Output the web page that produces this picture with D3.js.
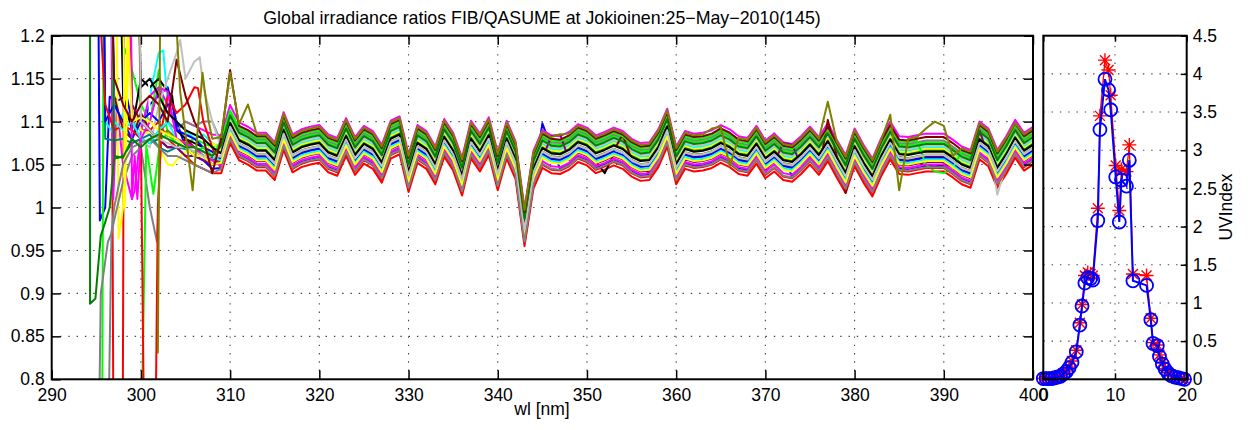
<!DOCTYPE html>
<meta charset="utf-8">
<script src="https://d3js.org/d3.v7.min.js"></script>
<style>
  body { margin: 0; background: #fff; }
  text { font-family: "Liberation Sans", Arial, sans-serif; }
</style>
<div id="chart"></div>
<script>

// ---- data ----

// axis ticks
var xTicks = [290, 300, 310, 320, 330, 340, 350, 360, 370, 380, 390, 400];
var xTickLabels = ["290", "300", "310", "320", "330", "340", "350", "360", "370", "380", "390", "400"];
var yTicks = [0.8, 0.85, 0.9, 0.95, 1, 1.05, 1.1, 1.15, 1.2];
var yTickLabels = ["0.8", "0.85", "0.9", "0.95", "1", "1.05", "1.1", "1.15", "1.2"];
var uvXTicks = [0, 10, 20];
var uvYTicks = [0, 0.5, 1, 1.5, 2, 2.5, 3, 3.5, 4, 4.5];
var uvYTickLabels = ["0", "0.5", "1", "1.5", "2", "2.5", "3", "3.5", "4", "4.5"];

// spectral shape shared by the ratio curves, 309..400 nm every 1 nm
var profileStart = 309;
var profile = [
  1.063, 1.098, 1.078, 1.073, 1.066, 1.066, 1.055, 1.090, 1.064, 1.070,
  1.073, 1.075, 1.064, 1.060, 1.083, 1.061, 1.074, 1.068, 1.052, 1.080,
  1.085, 1.041, 1.075, 1.068, 1.050, 1.082, 1.066, 1.037, 1.080, 1.065,
  1.084, 1.043, 1.080, 1.056, 0.978, 1.045, 1.069, 1.063, 1.062, 1.067,
  1.076, 1.072, 1.063, 1.067, 1.072, 1.068, 1.059, 1.054, 1.055, 1.070,
  1.094, 1.050, 1.068, 1.065, 1.066, 1.069, 1.075, 1.070, 1.062, 1.060,
  1.074, 1.057, 1.065, 1.055, 1.053, 1.062, 1.073, 1.061, 1.077, 1.058,
  1.040, 1.071, 1.052, 1.036, 1.060, 1.079, 1.062, 1.061, 1.063, 1.065,
  1.065, 1.065, 1.058, 1.050, 1.046, 1.079, 1.071, 1.046, 1.062, 1.081,
  1.066, 1.073
];

// one entry per ratio curve (drawing order)
var seriesColors = [
  "#0000ff", "#00ff00", "#ff0000", "#00ffff", "#ff00ff", "#ffff00", "#000000",
  "#808080", "#c0c0c0", "#008000", "#800000", "#808000", "#800080", "#008080",
  "#ffffff", "#0000ff", "#00ff00", "#ff0000", "#00ffff", "#ff00ff", "#ffff00",
  "#000000", "#808080", "#c0c0c0", "#008000", "#800000", "#808000"
];
// level of each curve relative to the shared shape
var seriesLevels = [
  -0.017, 0.011, -0.023, 0.005, 0.021, 0.003, -0.010,
  0.013, 0.007, 0.001, -0.006, -0.003, -0.012, -0.004,
  -0.001, -0.007, 0.015, -0.019, -0.009, -0.015, -0.011,
  0.000, -0.018, -0.004, 0.009, 0.017, 0.019
];
// noisy short-wavelength part of each curve, [wl, ratio] up to 308 nm
var seriesEarly = [
  [[295,1.6],[295.4,0.985],[296,1.0],[296.5,1.129],[297.5,1.125],[298.4,1.13],[299,1.1],[300,1.09],[301,1.12],[302,1.13],[303,1.14],[304,1.1],[305,1.07],[306,1.06],[307,1.055],[308,1.045]],
  [[295.6,0.5],[295.9,1.6],[297,1.25],[298,1.19],[299,1.16],[300,1.12],[301,1.1],[302,1.16],[303,1.085],[304,1.08],[305,1.075],[306,1.08],[307,1.075],[308,1.07]],
  [[296.6,1.6],[297,0.5],[297.9,0.5],[298.2,1.6],[299,1.12],[300,1.09],[301,1.09],[302,1.1],[303,1.08],[304,1.07],[305,1.06],[306,1.05],[307,1.045],[308,1.04]],
  [[295.3,1.6],[296,1.1],[297,1.085],[298,1.11],[299,1.1],[300,1.09],[301,1.13],[302,1.18],[302.5,1.183],[303,1.12],[304,1.1],[305,1.09],[306,1.08],[307,1.085],[308,1.075]],
  [[296.3,1.6],[296.9,1.01],[297.3,1.12],[298,1.05],[299,1.01],[299.3,1.02],[300,1.09],[301,1.13],[302,1.14],[303,1.12],[304,1.09],[305,1.1],[306,1.095],[307,1.09],[308,1.085]],
  [[297,1.6],[297.5,0.964],[298,1.0],[298.5,1.2],[299,1.12],[300,1.09],[301,1.085],[302,1.07],[303,1.05],[303.6,1.049],[304,1.055],[305,1.065],[306,1.065],[307,1.06],[308,1.075]],
  [[297,1.6],[298,1.13],[299,1.09],[300,1.15],[300.5,1.145],[301,1.14],[302,1.15],[303,1.135],[303.5,1.13],[304,1.09],[305,1.08],[306,1.075],[307,1.07],[308,1.06]],
  [[295,0.5],[295.5,0.9],[296.3,0.96],[296.7,0.97],[297,0.985],[298,1.03],[299,1.06],[300,1.07],[301,1.0],[301.8,0.96],[302.3,1.09],[303,1.1],[304,1.09],[305,1.1],[306,1.095],[307,1.1],[308,1.1]],
  [[298.5,1.6],[299,1.1],[300,1.08],[301,1.07],[302,1.12],[303,1.15],[304,1.18],[304.4,1.195],[305,1.15],[306,1.17],[306.6,1.175],[307,1.14],[308,1.1]],
  [[294.3,1.6],[294.3,0.888],[294.9,0.894],[295.5,0.967],[296,0.983],[296.5,1.0],[297,1.057],[297.5,1.058],[298,1.06],[299,1.075],[300,1.08],[301,1.075],[302,1.08],[303,1.085],[304,1.08],[305,1.075],[306,1.07],[307,1.065],[308,1.058]],
  [[296,1.6],[297,1.13],[298,1.09],[299,1.08],[300,1.11],[301,1.09],[302,1.08],[303,1.07],[304,1.07],[305,1.08],[306,1.07],[307,1.06],[308,1.05]],
  [[299.2,1.6],[300,1.1],[301,1.09],[302,1.08],[303,1.09],[304,1.08],[305,1.075],[306,1.07],[307,1.065],[308,1.06]],
  [[298,1.6],[299,1.12],[300,1.1],[301,1.09],[302,1.08],[303,1.07],[304,1.07],[305,1.06],[306,1.06],[307,1.055],[308,1.05]],
  [[295.5,1.6],[296,1.08],[297,1.078],[298,1.08],[299,1.075],[300,1.08],[301,1.085],[302,1.07],[303,1.065],[304,1.07],[305,1.068],[306,1.065],[307,1.06],[308,1.055]],
  [[300,1.6],[301,1.1],[302,1.09],[303,1.08],[304,1.075],[305,1.07],[306,1.07],[307,1.065],[308,1.06]],
  [[295.6,1.6],[296,1.1],[297,1.12],[298,1.1],[299,1.08],[300,1.1],[301,1.11],[302,1.1],[303,1.12],[303.6,1.12],[304,1.09],[305,1.085],[306,1.08],[307,1.07],[308,1.065]],
  [[299.7,0.5],[300.6,1.072],[301.4,1.016],[302.2,1.08],[303,1.085],[304,1.075],[305,1.07],[306,1.065],[307,1.07],[308,1.06]],
  [[294,1.6],[295,1.3],[296,1.12],[297,1.09],[298,1.095],[299,1.09],[300,1.08],[300.6,0.5],[301.4,0.5],[301.9,1.0],[302.3,1.09],[303,1.13],[304,1.11],[305,1.12],[306,1.14],[306.4,1.139],[307,1.1],[308,1.07]],
  [[296,1.6],[297,1.1],[298,1.09],[299,1.1],[300,1.08],[301,1.075],[302,1.09],[303,1.1],[304,1.08],[305,1.07],[306,1.07],[307,1.065],[308,1.06]],
  [[298.7,1.6],[299,1.01],[299.3,1.06],[299.6,1.01],[300,1.08],[301,1.1],[302,1.14],[303,1.135],[304,1.08],[305,1.075],[306,1.07],[307,1.06],[308,1.055]],
  [[297.8,1.6],[298.2,1.0],[298.6,1.2],[299,1.1],[300,1.105],[301,1.1],[302,1.09],[303,1.085],[304,1.08],[305,1.07],[306,1.06],[307,1.06],[308,1.05]],
  [[299,1.6],[300,1.14],[301,1.15],[302,1.13],[303,1.11],[304,1.1],[305,1.09],[306,1.085],[307,1.08],[308,1.07]],
  [[296,0.5],[296.7,0.97],[297,1.0],[298,1.05],[299,1.07],[300,1.075],[301,1.08],[302,1.07],[303,1.06],[304,1.06],[305,1.055],[306,1.05],[307,1.045],[308,1.04]],
  [[299.5,1.6],[300,1.1],[301,1.09],[302,1.08],[303,1.075],[304,1.07],[305,1.07],[306,1.065],[307,1.06],[308,1.06]],
  [[296.5,1.6],[297,1.06],[298,1.058],[299,1.08],[300,1.07],[301,1.08],[302,1.085],[303,1.08],[304,1.075],[305,1.07],[306,1.07],[307,1.065],[308,1.06]],
  [[296,1.6],[297,1.15],[298,1.12],[299,1.1],[300,1.12],[301,1.13],[302,1.12],[303,1.1],[304,1.172],[305,1.13],[306,1.1],[307,1.08],[308,1.04]],
  [[301.9,0.83],[302.4,1.6],[303.5,1.3],[304.4,1.135],[305.8,1.02],[306.9,1.157],[307.6,1.1],[308,1.08]]
];
// places where a curve leaves the bundle, [wl, ratio]
var seriesDev = [
  [[345,1.098],[346,1.07],[371,1.086],[372,1.06]],
  [],
  [],
  [],
  [],
  [],
  [[352,1.04],[359,1.109],[388,1.048],[389,1.047],[390,1.05]],
  [],
  [[396,1.015],[397,1.05]],
  [],
  [[354,1.085],[355,1.056],[357,1.04],[376,1.042],[377,1.102],[378,1.06],[379,1.017]],
  [],
  [[346,1.083],[347,1.085],[372,1.075],[373,1.073],[394,1.09]],
  [],
  [],
  [],
  [[388,1.05],[389,1.042],[390,1.04],[391,1.046]],
  [],
  [],
  [],
  [],
  [],
  [],
  [],
  [],
  [[310,1.16]],
  [[310,1.157],[312,1.12],[347,1.085],[364,1.092],[366,1.048],[377,1.123],[384,1.108],[385,1.02],[388,1.092],[389,1.1],[390,1.095],[391,1.06],[398,1.098]]
];

// UV index panel: time [h], red stars and blue circles
var uvTime = [0.0, 0.4, 0.8, 1.2, 1.6, 2.0, 2.4, 2.8, 3.2, 3.6, 4.0, 4.6, 5.1, 5.4, 5.8, 6.2, 6.6, 6.9, 7.6, 7.9,
  8.6, 9.1, 9.4, 10.1, 10.6, 10.9, 11.6, 12.0, 12.5, 14.4, 15.0, 15.3, 15.9, 16.2, 16.6, 17.0, 17.4, 17.8, 18.3, 18.8, 19.3, 19.7];
var uvRed = [0.01, 0.01, 0.01, 0.01, 0.02, 0.03, 0.05, 0.08, 0.11, 0.16, 0.24, 0.38, 0.74, 0.98, 1.36, 1.4, 1.38, 1.36, 2.24, 3.45,
  4.18, 4.05, 3.72, 2.8, 2.21, 2.75, 2.72, 3.07, 1.38, 1.36, 0.8, 0.48, 0.45, 0.32, 0.22, 0.14, 0.09, 0.06, 0.04, 0.02, 0.01, 0.0];
var uvBlue = [0.01, 0.01, 0.01, 0.01, 0.02, 0.03, 0.04, 0.07, 0.1, 0.15, 0.22, 0.36, 0.71, 0.96, 1.26, 1.33, 1.32, 1.3, 2.08, 3.27,
  3.93, 3.79, 3.53, 2.65, 2.06, 2.61, 2.53, 2.87, 1.29, 1.23, 0.78, 0.47, 0.44, 0.3, 0.2, 0.13, 0.08, 0.05, 0.03, 0.02, 0.01, 0.0];

// ---- drawing ----

var svg = d3.select("#chart").append("svg")
    .attr("width", 1257)
    .attr("height", 430);

var x = d3.scaleLinear().domain([290, 400]).range([51.7, 1033]);
var y = d3.scaleLinear().domain([0.8, 1.2]).range([379.3, 35.7]);
var xr = d3.scaleLinear().domain([0, 20]).range([1043.3, 1186.7]);
var yr = d3.scaleLinear().domain([0, 4.5]).range([379.3, 35.7]);

// dotted grid
function dotted(g) {
  g.attr("stroke", "#444").attr("stroke-width", 1.1).attr("stroke-dasharray", "1.4,6.9");
}
var grid = svg.append("g").call(dotted);
grid.selectAll(".gx").data(xTicks.slice(1, -1)).enter().append("line")
    .attr("x1", function(d) { return x(d); }).attr("x2", function(d) { return x(d); })
    .attr("y1", y(0.8)).attr("y2", y(1.2));
grid.selectAll(".gy").data(yTicks.slice(1, -1)).enter().append("line")
    .attr("x1", x(290)).attr("x2", x(400))
    .attr("y1", function(d) { return y(d); }).attr("y2", function(d) { return y(d); });
grid.selectAll(".gxr").data([10]).enter().append("line")
    .attr("x1", function(d) { return xr(d); }).attr("x2", function(d) { return xr(d); })
    .attr("y1", yr(0)).attr("y2", yr(4.5));
grid.selectAll(".gyr").data(uvYTicks.slice(1, -1)).enter().append("line")
    .attr("x1", xr(0)).attr("x2", xr(20))
    .attr("y1", function(d) { return yr(d); }).attr("y2", function(d) { return yr(d); });

// ratio curves
svg.append("clipPath").attr("id", "clipMain")
  .append("rect")
    .attr("x", x(290)).attr("y", y(1.2))
    .attr("width", x(400) - x(290)).attr("height", y(0.8) - y(1.2));

var curves = seriesColors.map(function(c, i) {
  var dev = new Map(seriesDev[i]);
  var pts = seriesEarly[i].slice();
  profile.forEach(function(v, k) {
    var w = profileStart + k;
    pts.push([w, dev.has(w) ? dev.get(w) : v + seriesLevels[i]]);
  });
  return pts;
});

var line = d3.line()
    .x(function(d) { return x(d[0]); })
    .y(function(d) { return y(d[1]); });

svg.append("g")
    .attr("clip-path", "url(#clipMain)")
  .selectAll("path")
  .data(curves)
  .enter()
  .append("path")
    .attr("d", line)
    .attr("fill", "none")
    .attr("stroke", function(d, i) { return seriesColors[i]; })
    .attr("stroke-width", 2)
    .attr("stroke-linejoin", "round");

// UV index panel
var uvRedPts = uvTime.map(function(t, i) { return [t, uvRed[i]]; });
var uvBluePts = uvTime.map(function(t, i) { return [t, uvBlue[i]]; });
var uvLine = d3.line()
    .x(function(d) { return xr(d[0]); })
    .y(function(d) { return yr(d[1]); });

svg.append("path")
    .attr("d", uvLine(uvRedPts))
    .attr("fill", "none")
    .attr("stroke", "#ff0000")
    .attr("stroke-width", 1.3);

var star = "M-7,0L7,0M0,-7L0,7M-5,-5L5,5M-5,5L5,-5";
svg.append("g").selectAll("path")
  .data(uvRedPts)
  .enter()
  .append("path")
    .attr("transform", function(d) { return "translate(" + xr(d[0]) + "," + yr(d[1]) + ")"; })
    .attr("d", star)
    .attr("stroke", "#ff0000")
    .attr("stroke-width", 1.4);

svg.append("path")
    .attr("d", uvLine(uvBluePts))
    .attr("fill", "none")
    .attr("stroke", "#0000ff")
    .attr("stroke-width", 2);

svg.append("g").selectAll("circle")
  .data(uvBluePts)
  .enter()
  .append("circle")
    .attr("cx", function(d) { return xr(d[0]); })
    .attr("cy", function(d) { return yr(d[1]); })
    .attr("r", 6.5)
    .attr("fill", "none")
    .attr("stroke", "#0000ff")
    .attr("stroke-width", 1.8);

// axes
function styleAxis(g) {
  g.select(".domain").remove();
  g.selectAll(".tick line").attr("stroke", "#000").attr("stroke-width", 1.5);
  g.selectAll("text").attr("fill", "#000").style("font-size", "17.5px")
    .style("font-family", "'Liberation Sans', Arial, sans-serif");
}

svg.append("g")
    .attr("transform", "translate(0," + y(0.8) + ")")
    .call(d3.axisBottom(x).tickValues(xTicks)
      .tickFormat(function(d, i) { return xTickLabels[i]; })
      .tickSizeInner(-9).tickSizeOuter(0).tickPadding(9))
    .call(styleAxis);
svg.append("g")
    .attr("transform", "translate(0," + y(1.2) + ")")
    .call(d3.axisTop(x).tickValues(xTicks).tickFormat("").tickSizeInner(-9).tickSizeOuter(0))
    .call(styleAxis);
svg.append("g")
    .attr("transform", "translate(" + x(290) + ",0)")
    .call(d3.axisLeft(y).tickValues(yTicks)
      .tickFormat(function(d, i) { return yTickLabels[i]; })
      .tickSizeInner(-9).tickSizeOuter(0).tickPadding(7))
    .call(styleAxis);
svg.append("g")
    .attr("transform", "translate(" + x(400) + ",0)")
    .call(d3.axisRight(y).tickValues(yTicks).tickFormat("").tickSizeInner(-9).tickSizeOuter(0))
    .call(styleAxis);

svg.append("g")
    .attr("transform", "translate(0," + yr(0) + ")")
    .call(d3.axisBottom(xr).tickValues(uvXTicks).tickFormat(d3.format("d"))
      .tickSizeInner(-6).tickSizeOuter(0).tickPadding(9))
    .call(styleAxis);
svg.append("g")
    .attr("transform", "translate(0," + yr(4.5) + ")")
    .call(d3.axisTop(xr).tickValues(uvXTicks).tickFormat("").tickSizeInner(-6).tickSizeOuter(0))
    .call(styleAxis);
svg.append("g")
    .attr("transform", "translate(" + xr(20) + ",0)")
    .call(d3.axisRight(yr).tickValues(uvYTicks)
      .tickFormat(function(d, i) { return uvYTickLabels[i]; })
      .tickSizeInner(-6).tickSizeOuter(0).tickPadding(6))
    .call(styleAxis);

// frames
svg.append("rect")
    .attr("x", x(290)).attr("y", y(1.2))
    .attr("width", x(400) - x(290)).attr("height", y(0.8) - y(1.2))
    .attr("fill", "none").attr("stroke", "#000").attr("stroke-width", 2);
svg.append("rect")
    .attr("x", xr(0)).attr("y", yr(4.5))
    .attr("width", xr(20) - xr(0)).attr("height", yr(0) - yr(4.5))
    .attr("fill", "none").attr("stroke", "#000").attr("stroke-width", 2);

// labels
svg.append("text")
    .attr("x", 542).attr("y", 24)
    .attr("text-anchor", "middle")
    .style("font-size", "17.8px")
    .text("Global irradiance ratios FIB/QASUME at Jokioinen:25\u2212May\u22122010(145)");
svg.append("text")
    .attr("x", 542).attr("y", 415)
    .attr("text-anchor", "middle")
    .style("font-size", "17.5px")
    .text("wl [nm]");
svg.append("text")
    .attr("transform", "translate(1232,207) rotate(-90)")
    .attr("text-anchor", "middle")
    .style("font-size", "17.5px")
    .text("UVIndex");

</script>
